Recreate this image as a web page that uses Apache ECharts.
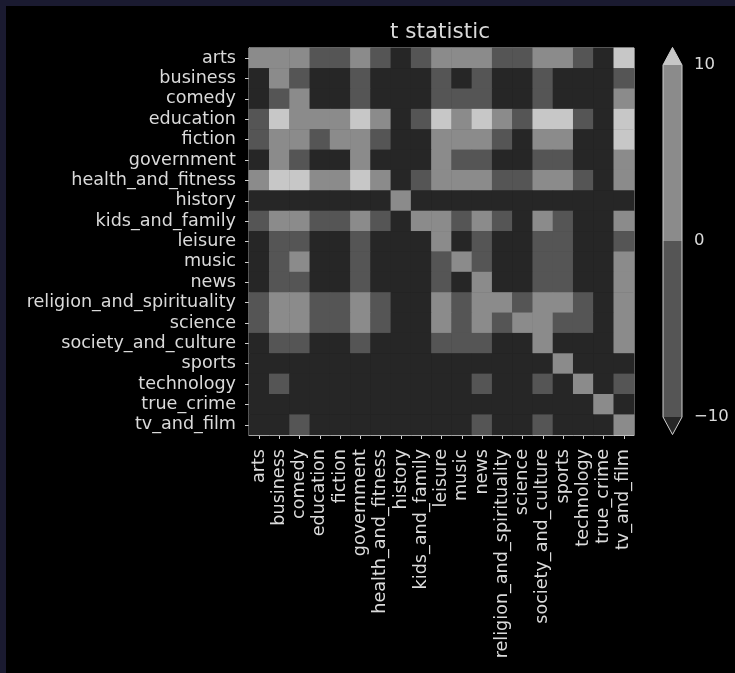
<!DOCTYPE html>
<html>
<head>
<meta charset="utf-8">
<script src="https://cdn.jsdelivr.net/npm/echarts@6/dist/echarts.min.js"></script>
<style>
  html, body { margin: 0; padding: 0; background: #1a1a30; width: 735px; height: 673px; overflow: hidden; }
  #chart { position: absolute; left: 6px; top: 6px; width: 729px; height: 667px; background: #000; }
</style>
</head>
<body>
<div id="chart"></div>
<script>
// categories (same order on both axes)
const categories = [
  'arts', 'business', 'comedy', 'education', 'fiction', 'government',
  'health_and_fitness', 'history', 'kids_and_family', 'leisure', 'music',
  'news', 'religion_and_spirituality', 'science', 'society_and_culture',
  'sports', 'technology', 'true_crime', 'tv_and_film'
]

// t statistic, one row per category (row = y label, column = x label)
const tValues = [
  [5, 5, 5, -5, -5, 5, -5, -15, -5, 5, 5, 5, -5, -5, 5, 5, -5, -15, 15],
  [-15, 5, -5, -15, -15, -5, -15, -15, -15, -5, -15, -5, -15, -15, -5, -15, -15, -15, -5],
  [-15, -5, 5, -15, -15, -5, -15, -15, -15, -5, -5, -5, -15, -15, -5, -15, -15, -15, 5],
  [-5, 15, 5, 5, 5, 15, 5, -15, -5, 15, 5, 15, 5, -5, 15, 15, -5, -15, 15],
  [-5, 5, 5, -5, 5, 5, -5, -15, -15, 5, 5, 5, -5, -15, 5, 5, -15, -15, 15],
  [-15, 5, -5, -15, -15, 5, -15, -15, -15, 5, -5, -5, -15, -15, -5, -5, -15, -15, 5],
  [5, 15, 15, 5, 5, 15, 5, -15, -5, 5, 5, 5, -5, -5, 5, 5, -5, -15, 5],
  [-15, -15, -15, -15, -15, -15, -15, 5, -15, -15, -15, -15, -15, -15, -15, -15, -15, -15, -15],
  [-5, 5, 5, -5, -5, 5, -5, -15, 5, 5, -5, 5, -5, -15, 5, -5, -15, -15, 5],
  [-15, -5, -5, -15, -15, -5, -15, -15, -15, 5, -15, -5, -15, -15, -5, -5, -15, -15, -5],
  [-15, -5, 5, -15, -15, -5, -15, -15, -15, -5, 5, -5, -15, -15, -5, -5, -15, -15, 5],
  [-15, -5, -5, -15, -15, -5, -15, -15, -15, -5, -15, 5, -15, -15, -5, -5, -15, -15, 5],
  [-5, 5, 5, -5, -5, 5, -5, -15, -15, 5, -5, 5, 5, -5, 5, 5, -5, -15, 5],
  [-5, 5, 5, -5, -5, 5, -5, -15, -15, 5, -5, 5, -5, 5, 5, -5, -5, -15, 5],
  [-15, -5, -5, -15, -15, -5, -15, -15, -15, -5, -5, -5, -15, -15, 5, -15, -15, -15, 5],
  [-15, -15, -15, -15, -15, -15, -15, -15, -15, -15, -15, -15, -15, -15, -15, 5, -15, -15, -15],
  [-15, -5, -15, -15, -15, -15, -15, -15, -15, -15, -15, -5, -15, -15, -5, -15, 5, -15, -5],
  [-15, -15, -15, -15, -15, -15, -15, -15, -15, -15, -15, -15, -15, -15, -15, -15, -15, 5, -15],
  [-15, -15, -5, -15, -15, -15, -15, -15, -15, -15, -15, -5, -15, -15, -5, -15, -15, -15, 5]
]

// colour bar boundaries and ticks
const levels = [-10, 0, 10]
const cbarTicks = [-10, 0, 10]

// greys for: below -10, -10..0, 0..10, above 10
const greys = ['#262626', '#555555', '#8b8b8b', '#c7c7c7']
const fg = '#dadada'
const spine = '#cfcfcf'
const font = 'DejaVu Sans'

const heatData = []
tValues.forEach((row, y) => {
  row.forEach((v, x) => heatData.push([x, y, v]))
})

// colour bar pieces: extension triangles one unit beyond the ends
const cbarPieces = [
  [levels[0] - 1, levels[0], 0],
  [levels[0], levels[1], 1],
  [levels[1], levels[2], 2],
  [levels[2], levels[2] + 1, 3]
]

const chart = echarts.init(document.getElementById('chart'))

const catAxis = {
  type: 'category',
  data: categories,
  axisLine: { show: true, lineStyle: { color: spine, width: 1 } },
  axisTick: { show: true, alignWithLabel: true, length: 4, lineStyle: { color: spine } },
  axisLabel: { interval: 0, color: fg, fontFamily: font, fontSize: 17.6, margin: 13 },
  splitLine: { show: false }
}

const option = {
  animation: false,
  backgroundColor: '#000',
  title: {
    text: 't statistic',
    left: 429,
    top: 10,
    textAlign: 'center',
    textStyle: { color: fg, fontFamily: font, fontSize: 21.5, fontWeight: 'normal' }
  },
  grid: [
    { left: 243, top: 42, width: 385, height: 387, show: true, borderColor: spine, borderWidth: 1, backgroundColor: 'transparent' },
    { left: 657, top: 59, width: 19, height: 352 }
  ],
  xAxis: [
    Object.assign({}, catAxis, {
      gridIndex: 0,
      position: 'bottom',
      axisLabel: Object.assign({}, catAxis.axisLabel, { rotate: 90, margin: 14 })
    }),
    { type: 'value', gridIndex: 1, min: 0, max: 1, show: false }
  ],
  yAxis: [
    Object.assign({}, catAxis, { gridIndex: 0, inverse: true }),
    {
      type: 'value',
      gridIndex: 1,
      min: cbarTicks[0],
      max: cbarTicks[cbarTicks.length - 1],
      interval: 10,
      position: 'right',
      axisLine: { show: false },
      axisTick: { show: true, length: 4, lineStyle: { color: spine } },
      axisLabel: {
        color: fg, fontFamily: font, fontSize: 16.5, margin: 12,
        formatter: v => String(v).replace('-', '\u2212')
      },
      splitLine: { show: false }
    }
  ],
  visualMap: {
    type: 'piecewise',
    show: false,
    seriesIndex: 0,
    dimension: 2,
    pieces: [
      { lt: levels[0], color: greys[0] },
      { gte: levels[0], lt: levels[1], color: greys[1] },
      { gte: levels[1], lt: levels[2], color: greys[2] },
      { gte: levels[2], color: greys[3] }
    ]
  },
  series: [
    {
      type: 'heatmap',
      xAxisIndex: 0,
      yAxisIndex: 0,
      data: heatData,
      emphasis: { disabled: true },
      itemStyle: { borderWidth: 0 }
    },
    {
      // colour bar body + extensions
      type: 'custom',
      xAxisIndex: 1,
      yAxisIndex: 1,
      clip: false,
      silent: true,
      data: cbarPieces,
      encode: { y: [0, 1] },
      renderItem(params, api) {
        const lo = api.value(0)
        const hi = api.value(1)
        const fill = greys[api.value(2)]
        const pLo = api.coord([0, lo])
        const pHi = api.coord([1, hi])
        const xl = pLo[0]
        const xr = pHi[0]
        const xm = (xl + xr) / 2
        if (lo < levels[0]) {
          return { type: 'polygon', shape: { points: [[xl, pHi[1]], [xr, pHi[1]], [xm, pLo[1]]] }, style: { fill } }
        }
        if (hi > levels[2]) {
          return { type: 'polygon', shape: { points: [[xl, pLo[1]], [xr, pLo[1]], [xm, pHi[1]]] }, style: { fill } }
        }
        return { type: 'rect', shape: { x: xl, y: pHi[1], width: xr - xl, height: pLo[1] - pHi[1] }, style: { fill } }
      }
    },
    {
      // colour bar outline
      type: 'custom',
      xAxisIndex: 1,
      yAxisIndex: 1,
      clip: false,
      silent: true,
      data: [[levels[0] - 1, levels[2] + 1]],
      encode: { y: [0, 1] },
      renderItem(params, api) {
        const bot = api.value(0)
        const top = api.value(1)
        const xl = api.coord([0, 0])[0]
        const xr = api.coord([1, 0])[0]
        const xm = (xl + xr) / 2
        const y = v => api.coord([0, v])[1]
        return {
          type: 'polygon',
          shape: {
            points: [
              [xl, y(levels[2])], [xm, y(top)], [xr, y(levels[2])],
              [xr, y(levels[0])], [xm, y(bot)], [xl, y(levels[0])]
            ]
          },
          style: { fill: null, stroke: spine, lineWidth: 1 }
        }
      }
    }
  ]
}

chart.setOption(option)
</script>
</body>
</html>
